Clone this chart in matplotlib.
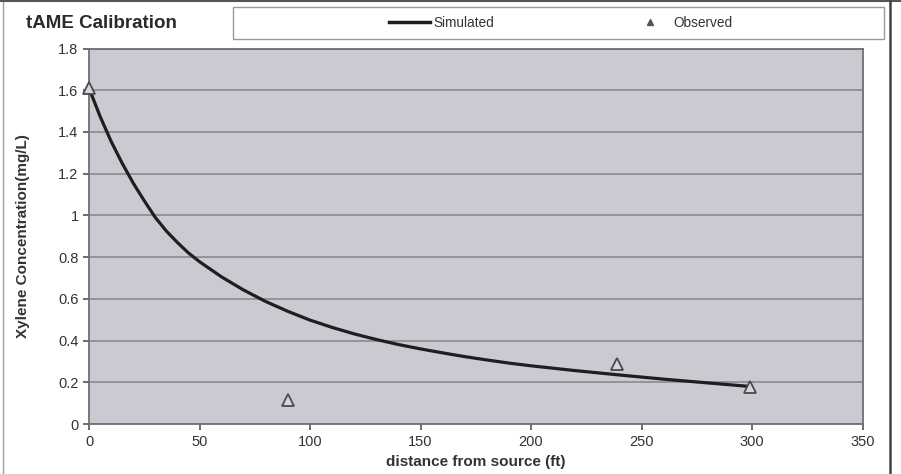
import matplotlib
matplotlib.use("Agg")
import matplotlib.pyplot as plt
from matplotlib.lines import Line2D
from matplotlib.patches import Rectangle

plt.rcParams['font.family'] = ['Liberation Sans', 'DejaVu Sans']

# Simulated concentration profile along the flow path
sim_x = [0, 5, 10, 15, 20, 25, 30, 35, 40, 45, 50, 60, 70, 80, 90, 100,
         110, 120, 130, 140, 150, 160, 170, 180, 190, 200, 220, 240, 260,
         280, 299]
sim_y = [1.61, 1.475, 1.355, 1.25, 1.155, 1.07, 0.99, 0.925, 0.87, 0.82,
         0.778, 0.705, 0.642, 0.587, 0.54, 0.498, 0.463, 0.432, 0.405,
         0.381, 0.36, 0.341, 0.323, 0.307, 0.292, 0.279, 0.256, 0.235,
         0.215, 0.197, 0.18]

# Observed well concentrations
obs_x = [0, 90, 239, 299]
obs_y = [1.61, 0.115, 0.29, 0.175]

x_ticks = [0, 50, 100, 150, 200, 250, 300, 350]
y_ticks = [0, 0.2, 0.4, 0.6, 0.8, 1, 1.2, 1.4, 1.6, 1.8]
y_ticklabels = ['0', '0.2', '0.4', '0.6', '0.8', '1', '1.2', '1.4', '1.6', '1.8']

W, H = 901, 474
fig = plt.figure(figsize=(W / 100, H / 100), dpi=100)
fig.patch.set_facecolor('white')

def fx(px):
    return px / W

def fy(py):
    return 1 - py / H

ax = fig.add_axes([fx(89), fy(424), fx(862.5) - fx(89), fy(48.5) - fy(424)])
ax.set_facecolor('#cacad3')

ax.plot(sim_x, sim_y, color='#1e1e1e', lw=2.3, solid_capstyle='round',
        solid_joinstyle='round', zorder=3)
ax.plot(obs_x, obs_y, linestyle='none', marker='^', markersize=8,
        markerfacecolor='#d6d6de', markeredgecolor='#4a4a4a',
        markeredgewidth=1.3, zorder=4, clip_on=False)

ax.set_xlim(0, 350)
ax.set_ylim(0, 1.8)
ax.set_xticks(x_ticks)
ax.set_yticks(y_ticks)
ax.set_yticklabels(y_ticklabels)
ax.tick_params(axis='both', labelsize=10.5, colors='#555555',
               labelcolor='#333333', length=4, width=1.2, direction='out')
ax.tick_params(axis='x', pad=4)
ax.grid(axis='y', color='#8a8a8e', lw=1.2)
ax.set_axisbelow(True)
for s in ax.spines.values():
    s.set_color('#707070')
    s.set_linewidth(1.3)

ax.set_xlabel('distance from source (ft)', fontsize=11, fontweight='bold',
              color='#333333', labelpad=4)
ax.set_ylabel('Xylene Concentration(mg/L)', fontsize=11, fontweight='bold',
              color='#333333', labelpad=20)

fig.text(fx(26), fy(24), 'tAME Calibration', fontsize=13.5,
         fontweight='bold', color='#2a2a2a', va='center', ha='left')

# Legend frame
fig.patches.append(Rectangle((fx(233), fy(39)), fx(884) - fx(233),
                             fy(7) - fy(39), transform=fig.transFigure,
                             facecolor='white', edgecolor='#9a9a9a', lw=1.0,
                             zorder=1))
handles = [
    Line2D([], [], color='#1e1e1e', lw=2.5),
    Line2D([], [], linestyle='none', marker='^', markersize=5,
           markerfacecolor='#555555', markeredgecolor='#555555'),
]
fig.legend(handles, ['Simulated', 'Observed'], ncol=2, loc='center',
           bbox_to_anchor=(fx(561), fy(23)), frameon=False, fontsize=9.8,
           handlelength=3, handletextpad=0.2, columnspacing=10.0,
           labelcolor='#333333')

# Outer frame of the figure
fig.add_artist(Line2D([fx(3), fx(3)], [0, 1], transform=fig.transFigure,
                      color='#a0a0a0', lw=1.0))
fig.add_artist(Line2D([0, 1], [fy(0.5), fy(0.5)], transform=fig.transFigure,
                      color='#555555', lw=1.5))
fig.add_artist(Line2D([fx(890), fx(890)], [0, 1], transform=fig.transFigure,
                      color='#444444', lw=1.8))

fig.savefig('out.png', dpi=100)
